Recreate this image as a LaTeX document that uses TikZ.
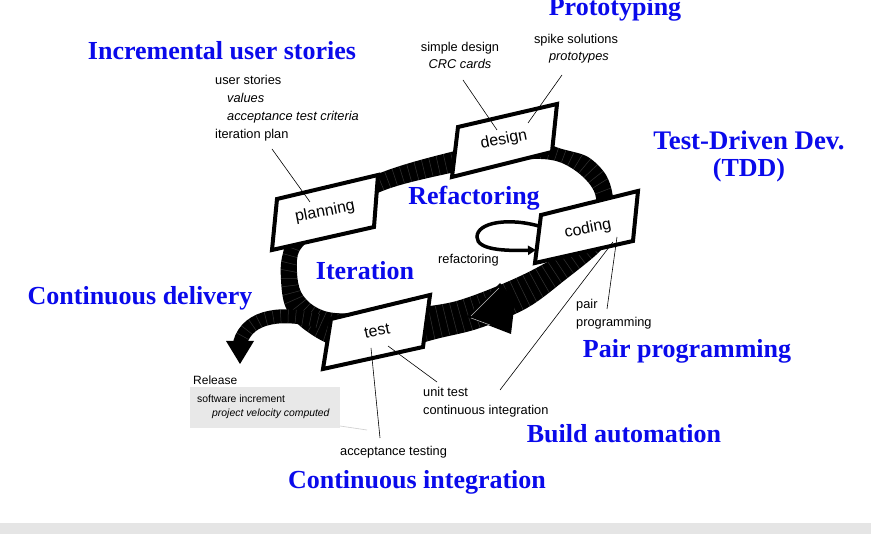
\documentclass[tikz,border=0pt]{standalone}
\usepackage{fontspec}
\newfontfamily\labfont{Liberation Sans}
\newfontfamily\bluefont{Liberation Serif}
\usetikzlibrary{arrows.meta}
\definecolor{blu}{RGB}{10,10,235}
\definecolor{lgray}{RGB}{232,232,232}
\definecolor{stripgray}{RGB}{229,229,229}
\begin{document}
\begin{tikzpicture}[x=1pt,y=-1pt,
  bl/.style={text=blu, font=\bluefont\bfseries\fontsize{26}{30}\selectfont, inner sep=0pt, anchor=base},
  lab/.style={font=\labfont\fontsize{12.8}{15}\selectfont, inner sep=0pt, anchor=base west},
  labc/.style={lab, anchor=base},
  labi/.style={lab, font=\labfont\itshape\fontsize{12.8}{15}\selectfont},
  labic/.style={labi, anchor=base},
  smalllab/.style={lab, font=\labfont\fontsize{10.4}{12}\selectfont},
  smalllabi/.style={lab, font=\labfont\itshape\fontsize{10.4}{12}\selectfont},
  box/.style={draw=black, fill=white, line width=4pt, line join=miter},
  boxtext/.style={font=\labfont\fontsize{16}{18}\selectfont, inner sep=0pt, rotate=11},
  conn/.style={draw=black, line width=0.6pt},
  hatch/.style={draw=white, opacity=0.2, line width=60pt, dash pattern=on 0.5pt off 7pt},
]
\useasboundingbox (0,0) rectangle (871,534);
\clip (0,0) rectangle (871,534);
\fill[white] (0,0) rectangle (871,534);
\fill[stripgray] (0,523) rectangle (871,534);

% ---- loop band ----
\fill[black, even odd rule]
  plot[smooth cycle, tension=0.55] coordinates {(283,253) (300,212) (380,173) (455,151) (520,138) (562,149) (588,157) (606,175) (613,198) (611,225) (603,248) (565,280) (527,308) (480,328) (440,338) (400,347) (340,347) (305,330) (286,308) (281,280)}
  plot[smooth cycle, tension=0.55] coordinates {(300,250) (325,228) (380,192) (455,172) (520,160) (556,161) (582,176) (596,198) (590,235) (540,266) (500,285) (460,300) (430,306) (380,312) (335,313) (314,306) (301,292) (297,272)};
\begin{scope}[even odd rule]
  \clip
  plot[smooth cycle, tension=0.55] coordinates {(283,253) (300,212) (380,173) (455,151) (520,138) (562,149) (588,157) (606,175) (613,198) (611,225) (603,248) (565,280) (527,308) (480,328) (440,338) (400,347) (340,347) (305,330) (286,308) (281,280)}
  plot[smooth cycle, tension=0.55] coordinates {(300,250) (325,228) (380,192) (455,172) (520,160) (556,161) (582,176) (596,198) (590,235) (540,266) (500,285) (460,300) (430,306) (380,312) (335,313) (314,306) (301,292) (297,272)};
  \draw[hatch] plot[smooth cycle, tension=0.55] coordinates {(290,268) (310,225) (380,183) (455,162) (525,150) (570,160) (594,180) (604,205) (598,242) (555,276) (510,300) (460,318) (400,330) (340,330) (309,318) (292,298)};
\end{scope}

% branch to delivery
\draw[line width=14pt] (318,321) .. controls (285,312) and (248,314) .. (240,343);
\draw[white, opacity=0.2, line width=14pt, dash pattern=on 0.5pt off 7pt] (318,321) .. controls (285,312) and (248,314) .. (240,343);
\fill[black] (226,341) -- (254,341) -- (240,364) -- cycle;

% main arrowhead
\fill[black] (500,283) -- (467,317) -- (511,334) -- (515,300) -- cycle;
\draw[gray!55, line width=0.6pt] (471,316) -- (499,288);
\draw[gray!40, line width=0.5pt] (471,318) -- (490,325);

% refactoring loop
\draw[line width=3.5pt, -{Triangle[length=8pt,width=9pt]}]
  (542,227) .. controls (510,217) and (477,222) .. (477,237)
  .. controls (477,250) and (505,251) .. (536,250);

% ---- boxes ----
\draw[box] (277,199) -- (378,175) -- (374,227) -- (272,250) -- cycle;
\node[boxtext] (planning) at (325,212) {planning};
\draw[box] (458,127) -- (557,104) -- (552,152) -- (452,177) -- cycle;
\node[boxtext] (design) at (504,140) {design};
\draw[box] (541,215) -- (638,191) -- (633,241) -- (535,263) -- cycle;
\node[boxtext] (coding) at (588,229) {coding};
\draw[box] (331,319) -- (430,295) -- (423,347) -- (323,369) -- cycle;
\node[boxtext] (test) at (377,331) {test};

% ---- labels ----
\node[lab] (us) at (215,85) {user stories};
\node[labi] (val) at (227,103) {values};
\node[labi] (atc) at (227,121) {acceptance test criteria};
\node[lab] (itp) at (215,139) {iteration plan};

\node[labc] (sd) at (460,52) {simple design};
\node[labic] (crc) at (460,69) {CRC cards};
\node[labc] (spike) at (576,44) {spike solutions};
\node[labic] (proto) at (579,61) {prototypes};

\node[lab] (refl) at (438,264) {refactoring};
\node[lab] (pairl) at (576,309) {pair};
\node[lab] (progl) at (576,327) {programming};
\node[lab] (unit) at (423,397) {unit test};
\node[lab] (ci) at (423,415) {continuous integration};
\node[lab] (acc) at (340,456) {acceptance testing};

\node[lab, font=\labfont\fontsize{12}{14}\selectfont] (rel) at (193,385) {Release};
\fill[lgray] (190,387) rectangle (340,428);
\node[smalllab] (sw) at (197,403) {software increment};
\node[smalllabi] (pv) at (212,417) {project velocity computed};

% ---- connectors ----
\coordinate (a1) at (272,149); \coordinate (a2) at (310,202);
\draw[conn] (a1) -- (a2);
\coordinate (b1) at (463,80); \coordinate (b2) at (497,130);
\draw[conn] (b1) -- (b2);
\coordinate (c1) at (562,75); \coordinate (c2) at (528,123);
\draw[conn] (c1) -- (c2);
\coordinate (d1) at (617,237); \coordinate (d2) at (607,309);
\draw[conn] (d1) -- (d2);
\coordinate (e1) at (613,242); \coordinate (e2) at (500,390);
\draw[conn] (e1) -- (e2);
\coordinate (f1) at (388,346); \coordinate (f2) at (437,382);
\draw[conn] (f1) -- (f2);
\coordinate (g1) at (371,348); \coordinate (g2) at (380,438);
\draw[conn] (g1) -- (g2);
\coordinate (h1) at (340,426); \coordinate (h2) at (367,430);
\draw[gray!40, line width=0.6pt] (h1) -- (h2);

% ---- blue titles ----
\node[bl] (tproto) at (615,16) {Prototyping};
\node[bl] (tincr) at (222,60) {Incremental user stories};
\node[bl, font=\bluefont\bfseries\fontsize{26.8}{30}\selectfont] (ttdd) at (749,150) {Test-Driven Dev.};
\node[bl] (ttdd2) at (749,177) {(TDD)};
\node[bl] (trefac) at (474,205) {Refactoring};
\node[bl] (titer) at (365,280) {Iteration};
\node[bl] (tcd) at (140,305) {Continuous delivery};
\node[bl] (tpair) at (687,358) {Pair programming};
\node[bl] (tbuild) at (624,443) {Build automation};
\node[bl] (tci) at (417,489) {Continuous integration};
\end{tikzpicture}
\end{document}
